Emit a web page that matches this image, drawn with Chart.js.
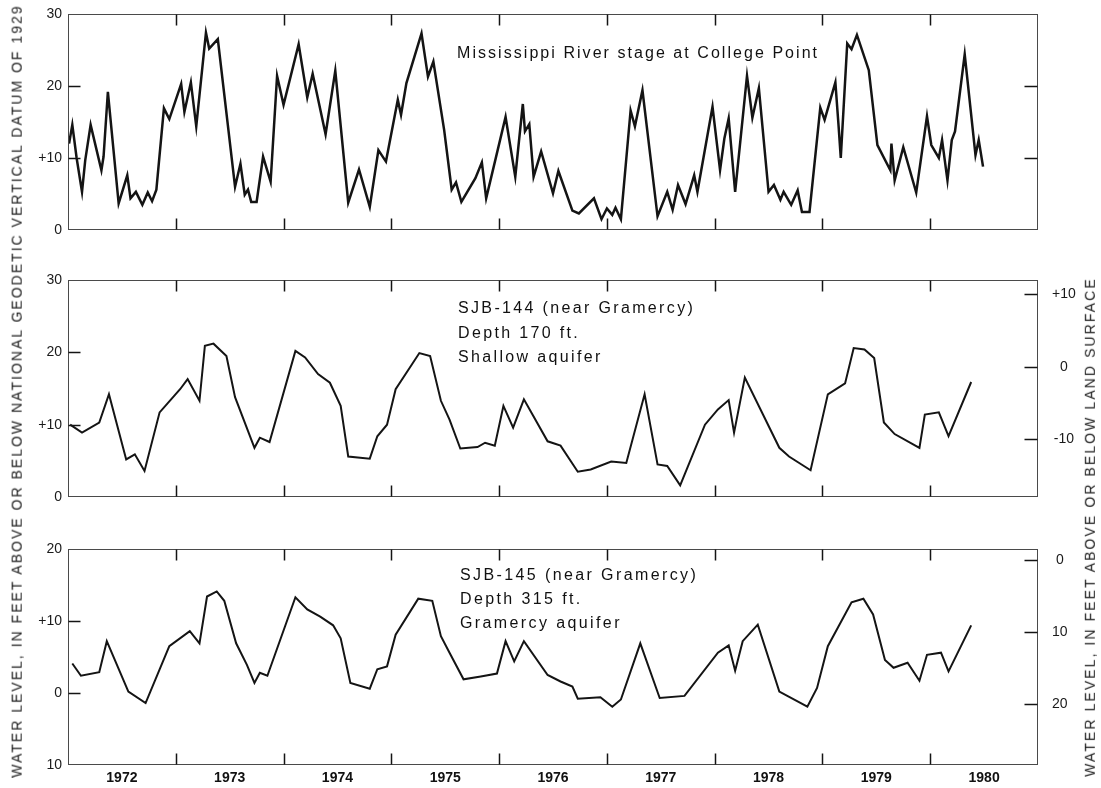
<!DOCTYPE html>
<html>
<head>
<meta charset="utf-8">
<script src="https://cdn.jsdelivr.net/npm/chart.js@4.4.1/dist/chart.umd.min.js"></script>
<style>
  html, body { margin: 0; padding: 0; background: #fff; }
  body { width: 1101px; height: 788px; position: relative; overflow: hidden;
         font-family: 'Liberation Sans', Arial, sans-serif; color: #111; }
  canvas { position: absolute; left: 0; }
  .note { position: absolute; font-size: 16px; line-height: 24.5px; white-space: nowrap; }
  .note div { display: inline-block; }
  .vtitle { position: absolute; display: inline-block; font-size: 14px; line-height: 18px;
            white-space: nowrap; transform: rotate(-90deg); color: #1e1e1e; }
</style>
</head>
<body>
<canvas id="river" width="1101" height="245" style="top:0px"></canvas>
<canvas id="sjb144" width="1101" height="245" style="top:262px"></canvas>
<canvas id="sjb145" width="1101" height="258" style="top:530px"></canvas>

<div class="note" id="noteRiver" style="left:457px; top:41px"><div>Mississippi River stage at College Point</div></div>
<div class="note" id="note144" style="left:458px; top:296px"><div>SJB-144 (near Gramercy)</div><br><div>Depth 170 ft.</div><br><div>Shallow aquifer</div></div>
<div class="note" id="note145" style="left:460px; top:563px; line-height:24px"><div>SJB-145 (near Gramercy)</div><br><div>Depth 315 ft.</div><br><div>Gramercy aquifer</div></div>

<div class="vtitle" id="titleLeft">WATER LEVEL, IN FEET ABOVE OR BELOW NATIONAL GEODETIC VERTICAL DATUM OF 1929</div>
<div class="vtitle" id="titleRight">WATER LEVEL, IN FEET ABOVE OR BELOW LAND SURFACE</div>

<script>
// Mississippi River stage at College Point (feet above NGVD of 1929)
const riverYear = [
  1972.01, 1972.04, 1972.08, 1972.13, 1972.16, 1972.21, 1972.31, 1972.33, 1972.37, 1972.47,
  1972.55, 1972.58, 1972.63, 1972.69, 1972.74, 1972.78, 1972.82, 1972.89, 1972.94,
  1973.05, 1973.08, 1973.14, 1973.19, 1973.28, 1973.31, 1973.39, 1973.55, 1973.60, 1973.64,
  1973.67, 1973.70, 1973.75, 1973.81, 1973.88, 1973.94,
  1974.00, 1974.14, 1974.22, 1974.27, 1974.39, 1974.48, 1974.60, 1974.70, 1974.80,
  1974.88, 1974.95,
  1975.06, 1975.09, 1975.14, 1975.28, 1975.34, 1975.39, 1975.49, 1975.56, 1975.60, 1975.65,
  1975.78, 1975.84, 1975.88,
  1976.06, 1976.15, 1976.22, 1976.24, 1976.28, 1976.32, 1976.39, 1976.50, 1976.55, 1976.68,
  1976.74, 1976.88, 1976.95,
  1977.00, 1977.05, 1977.08, 1977.13, 1977.22, 1977.26, 1977.33, 1977.47, 1977.56, 1977.61,
  1977.66, 1977.73, 1977.81, 1977.84, 1977.98,
  1978.05, 1978.09, 1978.13, 1978.19, 1978.30, 1978.35, 1978.41, 1978.50, 1978.55, 1978.61,
  1978.64, 1978.71, 1978.77, 1978.81, 1978.88, 1978.98,
  1979.02, 1979.12, 1979.15, 1979.17, 1979.23, 1979.27, 1979.32, 1979.43, 1979.51, 1979.63,
  1979.64, 1979.67, 1979.75, 1979.87, 1979.97,
  1980.01, 1980.08, 1980.11, 1980.16, 1980.20, 1980.23, 1980.32, 1980.42, 1980.45, 1980.49
]
const riverStage = [
  12.0, 14.6, 10.0, 5.3, 9.7, 14.6, 8.3, 10.2, 19.2, 3.7,
  7.6, 4.4, 5.3, 3.5, 5.2, 4.0, 5.6, 16.9, 15.4,
  20.3, 16.4, 20.5, 14.4, 27.4, 25.2, 26.5, 6.0, 9.2, 4.9,
  5.6, 3.9, 3.9, 10.2, 6.7, 21.4,
  17.4, 25.8, 18.4, 21.7, 13.3, 22.1, 3.8, 8.4, 3.2,
  11.1, 9.5,
  18.1, 16.0, 20.4, 27.3, 21.3, 23.4, 13.9, 5.6, 6.6, 3.9,
  7.2, 9.4, 4.4,
  15.7, 7.4, 17.5, 13.7, 14.7, 7.4, 10.9, 5.1, 8.2, 2.7,
  2.3, 4.4, 1.5,
  3.0, 2.1, 3.1, 1.5, 16.6, 14.4, 19.4, 1.9, 5.3, 2.8,
  6.25, 3.6, 7.6, 5.3, 17.1,
  8.3, 12.7, 15.5, 5.3, 21.4, 15.6, 19.7, 5.3, 6.25, 4.2,
  5.3, 3.5, 5.5, 2.5, 2.5, 17.0,
  15.3, 20.5, 14.4, 10.0, 25.9, 25.1, 27.1, 22.2, 11.8, 8.3,
  12.0, 6.9, 11.5, 5.2, 15.8,
  11.8, 10.0, 12.5, 6.9, 12.5, 13.7, 24.4, 10.4, 12.5, 8.8
]

// SJB-144, depth 170 ft, shallow aquifer
const sjb144Year = [
  1972.02, 1972.13, 1972.29, 1972.38, 1972.54, 1972.62, 1972.71, 1972.85,
  1973.04, 1973.11, 1973.22, 1973.27, 1973.35, 1973.47, 1973.55, 1973.73, 1973.78, 1973.87,
  1974.11, 1974.20, 1974.32, 1974.43, 1974.53, 1974.60, 1974.80, 1974.87, 1974.96,
  1975.04, 1975.26, 1975.36, 1975.46, 1975.54, 1975.64, 1975.80, 1975.87, 1975.96,
  1976.04, 1976.13, 1976.23, 1976.45, 1976.57, 1976.73, 1976.85,
  1977.04, 1977.18, 1977.35, 1977.47, 1977.56, 1977.68, 1977.91,
  1978.03, 1978.13, 1978.18, 1978.28, 1978.60, 1978.69, 1978.89,
  1979.05, 1979.21, 1979.29, 1979.39, 1979.48, 1979.57, 1979.67, 1979.90, 1979.95,
  1980.08, 1980.17, 1980.38
]
const sjb144Level = [
  10.0, 8.9, 10.3, 14.2, 5.2, 5.9, 3.6, 11.7,
  14.9, 16.3, 13.3, 20.9, 21.2, 19.5, 13.8, 6.8, 8.2, 7.6,
  20.2, 19.3, 17.0, 15.8, 12.6, 5.6, 5.3, 8.4, 10.0,
  14.9, 19.9, 19.5, 13.3, 10.7, 6.7, 6.9, 7.5, 7.1,
  12.6, 9.6, 13.5, 7.7, 7.1, 3.5, 3.8,
  4.9, 4.7, 14.2, 4.5, 4.3, 1.6, 10.0,
  12.1, 13.4, 8.9, 16.5, 6.8, 5.6, 3.7,
  14.2, 15.7, 20.6, 20.4, 19.2, 10.3, 8.7, 6.8, 11.4,
  11.7, 8.4, 15.9
]

// SJB-145, depth 315 ft, Gramercy aquifer
const sjb145Year = [
  1972.04, 1972.12, 1972.29, 1972.36, 1972.56, 1972.72, 1972.94,
  1973.13, 1973.22, 1973.29, 1973.38, 1973.45, 1973.56, 1973.66, 1973.73, 1973.78, 1973.85,
  1974.11, 1974.22, 1974.34, 1974.46, 1974.53, 1974.62, 1974.80, 1974.87, 1974.96,
  1975.04, 1975.25, 1975.38, 1975.46, 1975.54, 1975.67, 1975.83, 1975.98,
  1976.06, 1976.14, 1976.23, 1976.45, 1976.57, 1976.68, 1976.73, 1976.94,
  1977.05, 1977.13, 1977.31, 1977.49, 1977.72,
  1978.03, 1978.13, 1978.19, 1978.26, 1978.40, 1978.60, 1978.86, 1978.95,
  1979.05, 1979.27, 1979.38, 1979.47, 1979.58, 1979.66, 1979.79, 1979.90, 1979.97,
  1980.10, 1980.17, 1980.38
]
const sjb145Level = [
  4.1, 2.4, 2.9, 7.2, 0.2, -1.4, 6.5,
  8.6, 6.9, 13.4, 14.1, 12.8, 6.9, 3.9, 1.4, 2.8, 2.4,
  13.3, 11.6, 10.6, 9.4, 7.6, 1.4, 0.6, 3.3, 3.7,
  8.1, 13.1, 12.8, 7.9, 5.6, 1.9, 2.3, 2.7,
  7.2, 4.4, 7.2, 2.5, 1.6, 0.9, -0.8, -0.6,
  -1.9, -0.9, 6.9, -0.7, -0.4,
  5.6, 6.6, 3.1, 7.2, 9.5, 0.2, -1.9, 0.7,
  6.5, 12.6, 13.1, 10.9, 4.6, 3.5, 4.2, 1.7, 5.3,
  5.6, 3.0, 9.4
]

const yearLabels = ['1972', '1973', '1974', '1975', '1976', '1977', '1978', '1979', '1980']
const yearTicks = [1973, 1974, 1975, 1976, 1977, 1978, 1979, 1980]

Chart.defaults.font.family = "'Liberation Sans', Arial, sans-serif"
Chart.defaults.font.size = 14
Chart.defaults.color = '#1a1a1a'

const INK = '#141414'

// frame plus short inward tick marks, like the original plotter output
const inwardTicks = {
  id: 'inwardTicks',
  afterDraw(chart) {
    const { ctx, chartArea: a, scales } = chart
    const L = Math.round(a.left) + 0.5
    const R = Math.round(a.right) - 0.5
    const T = Math.round(a.top) + 0.5
    const B = Math.round(a.bottom) - 0.5
    ctx.save()
    ctx.strokeStyle = '#4a4a4a'
    ctx.lineWidth = 1
    ctx.strokeRect(L, T, R - L, B - T)

    ctx.strokeStyle = INK
    ctx.lineWidth = 1.5
    ctx.beginPath()
    yearTicks.forEach(yr => {
      const px = Math.round(scales.x.getPixelForValue(yr)) + 0.5
      ctx.moveTo(px, T); ctx.lineTo(px, T + 11)
      ctx.moveTo(px, B - 11); ctx.lineTo(px, B)
    })
    const left = scales.y
    left.ticks.forEach(t => {
      if (t.value <= left.min || t.value >= left.max) return
      const py = Math.round(left.getPixelForValue(t.value)) + 0.5
      ctx.moveTo(L, py); ctx.lineTo(L + 12, py)
    })
    const right = scales.y2 || scales.y
    right.ticks.forEach(t => {
      const lo = Math.min(right.min, right.max), hi = Math.max(right.min, right.max)
      if (t.value <= lo || t.value >= hi) return
      const py = Math.round(right.getPixelForValue(t.value)) + 0.5
      ctx.moveTo(R - 13, py); ctx.lineTo(R, py)
    })
    ctx.stroke()
    ctx.restore()
  }
}

function leftLabel(v) {
  if (v === 10) return '+10'
  return String(Math.abs(v))
}

function rightLabel(v) {
  if (v > 0 && !this.options.reverse) return '+' + v
  return String(v)
}

// fixed axis thickness, and no extra room for label overflow
function fixWidth(w) {
  return s => { s.width = w; s.paddingTop = 0; s.paddingBottom = 0 }
}

function makePanel(id, years, levels, cfg) {
  const scales = {
    x: {
      type: 'linear',
      min: 1972,
      max: 1981,
      afterBuildTicks: s => {
        s.ticks = cfg.showYears ? yearLabels.map((_, i) => ({ value: 1972.5 + i })) : []
      },
      ticks: {
        display: !!cfg.showYears,
        padding: 5,
        maxRotation: 0,
        autoSkip: false,
        font: { size: 14, weight: 'bold' },
        color: '#111',
        callback: (v, i) => yearLabels[i]
      },
      grid: { display: false, drawTicks: false },
      border: { display: false },
      afterFit: s => { s.height = cfg.xHeight; s.paddingLeft = 0; s.paddingRight = 0 }
    },
    y: {
      min: cfg.yMin,
      max: cfg.yMax,
      afterBuildTicks: s => { s.ticks = cfg.yTicks.map(v => ({ value: v })) },
      ticks: { padding: 6, callback: leftLabel },
      grid: { display: false, drawTicks: false },
      border: { display: false },
      afterFit: fixWidth(68)
    }
  }
  if (cfg.right) {
    scales.y2 = {
      position: 'right',
      min: cfg.right.min,
      max: cfg.right.max,
      reverse: cfg.right.reverse,
      afterBuildTicks: s => { s.ticks = cfg.right.ticks.map(v => ({ value: v })) },
      ticks: { padding: 14, crossAlign: 'center', callback: rightLabel },
      grid: { display: false, drawTicks: false },
      border: { display: false },
      afterFit: fixWidth(63)
    }
  }

  return new Chart(document.getElementById(id), {
    type: 'line',
    data: {
      datasets: [{
        data: years.map((x, i) => ({ x: x, y: levels[i] })),
        borderColor: INK,
        borderWidth: cfg.lineWidth,
        pointRadius: 0,
        tension: 0,
        fill: false
      }]
    },
    options: {
      responsive: false,
      animation: false,
      devicePixelRatio: 1,
      events: [],
      layout: { padding: cfg.padding },
      plugins: { legend: { display: false }, tooltip: { enabled: false } },
      scales: scales
    },
    plugins: [inwardTicks]
  })
}

makePanel('river', riverYear, riverStage, {
  yMin: 0, yMax: 30, yTicks: [0, 10, 20, 30],
  lineWidth: 2.5, xHeight: 0,
  padding: { top: 14, bottom: 15, left: 0, right: 63 }
})

makePanel('sjb144', sjb144Year, sjb144Level, {
  yMin: 0, yMax: 30, yTicks: [0, 10, 20, 30],
  lineWidth: 2, xHeight: 0,
  padding: { top: 18, bottom: 10, left: 0, right: 0 },
  // right side: feet above or below land surface (land surface = +18 ft NGVD)
  right: { min: -18, max: 12, reverse: false, ticks: [-10, 0, 10] }
})

makePanel('sjb145', sjb145Year, sjb145Level, {
  yMin: -10, yMax: 20, yTicks: [-10, 0, 10, 20],
  lineWidth: 2, xHeight: 23, showYears: true,
  padding: { top: 19, bottom: 0, left: 0, right: 0 },
  // right side: depth below land surface (land surface = +18.5 ft NGVD)
  right: { min: -1.5, max: 28.5, reverse: true, ticks: [0, 10, 20] }
})

// spread letters so the text runs as long as in the original
function spreadTo(el, target) {
  el.style.letterSpacing = '0px'
  const n = el.textContent.length
  return (target - el.offsetWidth) / n
}

function placeTitle(id, length, cx, cy) {
  const el = document.getElementById(id)
  el.style.letterSpacing = spreadTo(el, length) + 'px'
  el.style.left = (cx - el.offsetWidth / 2) + 'px'
  el.style.top = (cy - el.offsetHeight / 2) + 'px'
}

placeTitle('titleLeft', 773, 16, 391)
placeTitle('titleRight', 500, 1090, 527)

function spreadNote(id, target) {
  const lines = document.querySelectorAll('#' + id + ' div')
  const gap = spreadTo(lines[0], target)
  lines.forEach(l => { l.style.letterSpacing = gap + 'px' })
}

spreadNote('noteRiver', 362)
spreadNote('note144', 237)
spreadNote('note145', 238)
</script>
</body>
</html>
